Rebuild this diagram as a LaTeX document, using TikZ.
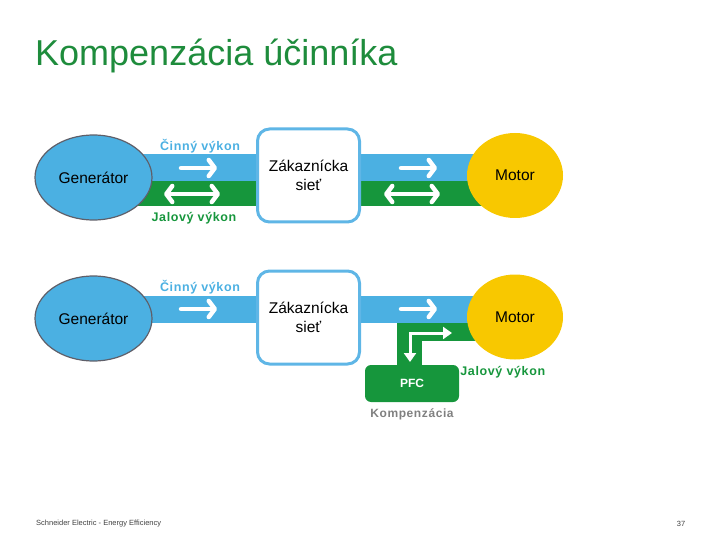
\documentclass[tikz,border=0pt]{standalone}
\usepackage{fontspec}
\setmainfont{Liberation Sans}
\newfontfamily\spacedfont{Liberation Sans}[LetterSpace=5]
\usepackage{xcolor}
\usetikzlibrary{arrows.meta,positioning,shapes.geometric,backgrounds}

\definecolor{actblue}{RGB}{75,176,226}
\definecolor{reagreen}{RGB}{22,150,60}
\definecolor{titlegreen}{RGB}{30,140,60}
\definecolor{motyellow}{RGB}{248,200,0}
\definecolor{netblue}{RGB}{95,182,230}
\definecolor{gengray}{RGB}{95,95,105}

\begin{document}
\begin{tikzpicture}[x=1pt,y=-1pt,node distance=4pt]
  \tikzset{gen/.style={ellipse,draw=gengray,line width=1.2pt,fill=actblue,minimum width=117pt,minimum height=85pt,inner sep=0pt,font=\fontsize{15.5}{18}\selectfont},
    net/.style={draw=netblue,line width=3pt,fill=white,rounded corners=12pt,minimum width=102pt,minimum height=93pt,align=center,font=\fontsize{15.5}{19}\selectfont},
    motor/.style={ellipse,fill=motyellow,minimum width=96pt,minimum height=85pt,inner sep=0pt,font=\fontsize{15.5}{18}\selectfont},
    pfcbox/.style={fill=reagreen,rounded corners=6pt,minimum width=94pt,minimum height=37pt,text=white,font=\bfseries\fontsize{12}{14}\selectfont},
    actlbl/.style={text=actblue,font=\spacedfont\bfseries\fontsize{12.5}{14}\selectfont,inner sep=1pt},
    realbl/.style={text=reagreen,font=\spacedfont\bfseries\fontsize{12.5}{14}\selectfont,inner sep=1pt},
    flow/.style={white,line width=4.5pt,line cap=round,-{Straight Barb[length=6pt,width=16pt,round]}},
    flowboth/.style={white,line width=4.5pt,{Straight Barb[length=6pt,width=16pt,round]}-{Straight Barb[length=6pt,width=16pt,round]}},
    pfcflow/.style={white,line width=3pt,{Triangle[length=9pt,width=12pt]}-{Triangle[length=9pt,width=12pt]}}}
  \useasboundingbox (0,0) rectangle (720,540);

  % title
  \node[anchor=base west,inner sep=0pt,text=titlegreen,font=\fontsize{36}{40}\selectfont] (title) at (35,66) {Kompenzácia účinníka};

  % upper diagram: without compensation
  \node[gen] (gen1) at (93.5,177.5) {Generátor};
  \node[net] (net1) at (308.5,175.5) {Zákaznícka\\sieť};
  \node[motor] (mot1) at (515,175.5) {Motor};
  \node[actlbl] (act1) at (200,146) {Činný výkon};
  \node[realbl] (rea1) at (194,218) {Jalový výkon};
  \begin{scope}[on background layer]
    \fill[actblue] (gen1.center |- 0,154) rectangle (mot1.center |- 0,181);
    \fill[reagreen] (gen1.center |- 0,181) rectangle (mot1.center |- 0,206);
  \end{scope}
  \coordinate (p1a) at (181,168);  \coordinate (p1b) at (217,168);
  \coordinate (p2a) at (401,168);  \coordinate (p2b) at (437,168);
  \coordinate (q1a) at (164,194);  \coordinate (q1b) at (220,194);
  \coordinate (q2a) at (384,194);  \coordinate (q2b) at (440,194);
  \draw[flow] (p1a) -- (p1b);
  \draw[flow] (p2a) -- (p2b);
  \draw[flowboth] (q1a) -- (q1b);
  \draw[flowboth] (q2a) -- (q2b);

  % lower diagram: with PFC
  \node[gen] (gen2) at (93.5,318.5) {Generátor};
  \node[net] (net2) at (308.5,317.5) {Zákaznícka\\sieť};
  \node[motor] (mot2) at (515,317) {Motor};
  \node[actlbl] (act2) at (200,287) {Činný výkon};
  \node[pfcbox] (pfc) at (412,383.5) {PFC};
  \node[realbl,anchor=west,yshift=-7pt] (rea2) at (pfc.north east) {Jalový výkon};
  \node[text=gray,font=\spacedfont\bfseries\fontsize{12}{14}\selectfont,below=3pt of pfc] (komp) {Kompenzácia};
  \begin{scope}[on background layer]
    \fill[actblue] (gen2.center |- 0,296) rectangle (mot2.center |- 0,323);
    \fill[reagreen] (397,323) rectangle (mot2.center |- 0,341);
    \fill[reagreen] (397,323) rectangle (422,370);
  \end{scope}
  \coordinate (p3a) at (181,309);  \coordinate (p3b) at (217,309);
  \coordinate (p4a) at (401,309);  \coordinate (p4b) at (437,309);
  \coordinate (c1) at (410,362);  \coordinate (c2) at (452,333);
  \draw[flow] (p3a) -- (p3b);
  \draw[flow] (p4a) -- (p4b);
  \draw[pfcflow] (c1) |- (c2);

  % footer
  \node[anchor=base west,inner sep=0pt,text=darkgray,font=\fontsize{7.5}{9}\selectfont] (foot) at (36,525) {Schneider Electric - Energy Efficiency};
  \node[anchor=base,inner sep=0pt,text=darkgray,font=\fontsize{7.5}{9}\selectfont] (page) at (681,526) {37};
\end{tikzpicture}
\end{document}
